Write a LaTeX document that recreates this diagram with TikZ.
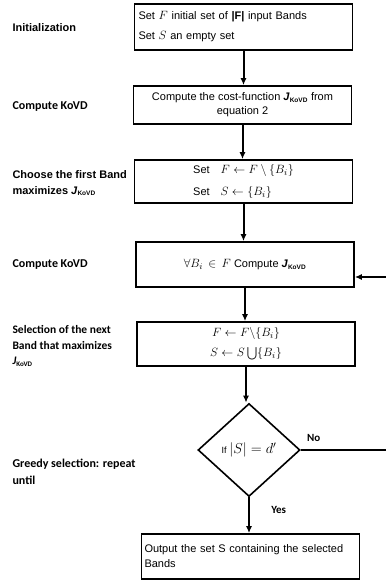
\documentclass[tikz,border=0pt]{standalone}
\usepackage{amsmath,amssymb}
\usepackage{fontspec}
\setmainfont{Liberation Sans}
\newfontfamily\calibri{Carlito}
\usetikzlibrary{arrows.meta,shapes.geometric}
\newcommand{\Jkovd}{\textbf{\textit{J}}\textsubscript{\bfseries\fontsize{6.5}{7}\selectfont KoVD}}
\newcommand{\mth}[1]{{\fontsize{12.5}{18}\selectfont$#1$}}
\begin{document}
\begin{tikzpicture}[x=1pt,y=1pt,
  proc/.style={draw,line width=1.6pt,minimum width=218pt,minimum height=44pt,
    align=center,inner sep=4pt,font=\fontsize{11}{20}\selectfont},
  decide/.style={diamond,draw,line width=1.6pt,minimum width=102pt,
    minimum height=93pt,inner sep=0pt},
  side/.style={anchor=west,align=left,font=\bfseries\fontsize{11}{16}\selectfont},
  sidec/.style={anchor=west,align=left,font=\calibri\bfseries\fontsize{12}{16}\selectfont},
  tag/.style={font=\calibri\bfseries\fontsize{11}{12}\selectfont},
  arr/.style={-{Latex[length=7pt,width=6pt]},line width=2pt}]
  \useasboundingbox (0,0) rectangle (385,-580);
  % steps
  \node[proc,align=left,text width=210pt,minimum height=46pt] (init) at (243.5,-27)
    {Set \mth{F} initial set of \textbf{|F|} input Bands\\Set \mth{S} an empty set};
  \node[proc,minimum height=38pt,font=\fontsize{11}{14}\selectfont] (cost) at (242.5,-105)
    {Compute the cost-function \Jkovd{} from\\equation 2};
  \node[proc,align=left,minimum height=43pt] (first) at (243.5,-181.5)
    {Set\quad \mth{F\leftarrow F\setminus\{B_i\}}\\[2pt]Set\quad \mth{S\leftarrow\{B_i\}}};
  \node[proc,minimum height=45pt] (kovd) at (245,-264.5)
    {\mth{\forall B_i\,\in\,F} Compute \Jkovd};
  \node[proc,font=\fontsize{11}{18}\selectfont] (next) at (246,-344)
    {\mth{F\leftarrow F\backslash\{B_i\}}\\[2pt]\mth{S\leftarrow S\bigcup\{B_i\}}};
  \node[decide] (cond) at (249,-450)
    {{\fontsize{9}{10}\selectfont If} {\fontsize{14}{16}\selectfont$|S|=d'$}};
  \node[proc,align=left,text width=212pt,inner sep=2.5pt,minimum height=45pt,
    font=\fontsize{11}{15}\selectfont] (out) at (250.5,-556.5)
    {Output the set S containing the selected\\Bands};
  % stage labels
  \node[side] (l1) at (9,-27.5) {Initialization};
  \node[sidec] (l2) at (9,-107) {Compute KoVD};
  \node[side] (l3) at (9,-183) {Choose the first Band\\maximizes \Jkovd};
  \node[sidec] (l4) at (9,-265) {Compute KoVD};
  \node[sidec,font=\calibri\bfseries\fontsize{11.5}{15.3}\selectfont] (l5) at (9,-346)
    {Selection of the next\\Band that maximizes\\\textit{J}\textsubscript{\fontsize{7}{8}\selectfont KoVD}};
  \node[sidec,font=\calibri\bfseries\fontsize{12}{17}\selectfont] (l6) at (9,-471.5)
    {Greedy selection: repeat\\until};
  % connectors
  \coordinate (back) at (387,0);
  \draw[arr] (init.south) -- (init.south |- cost.north);
  \draw[arr] (cost.south) -- (cost.south |- first.north);
  \draw[arr] (first.south) -- (first.south |- kovd.north);
  \draw[arr] (kovd.south) -- (kovd.south |- next.north);
  \draw[arr] (next.south) -- (next.south |- cond.north);
  \draw[arr] (cond.south) -- node[tag,pos=.35,right=18pt]{Yes}
    (cond.south |- out.north);
  \draw[arr] (cond.east) -- node[tag,pos=.15,above=4pt]{No}
    (cond.east -| back) |- ([yshift=-12.5pt]kovd.east);
\end{tikzpicture}
\end{document}
